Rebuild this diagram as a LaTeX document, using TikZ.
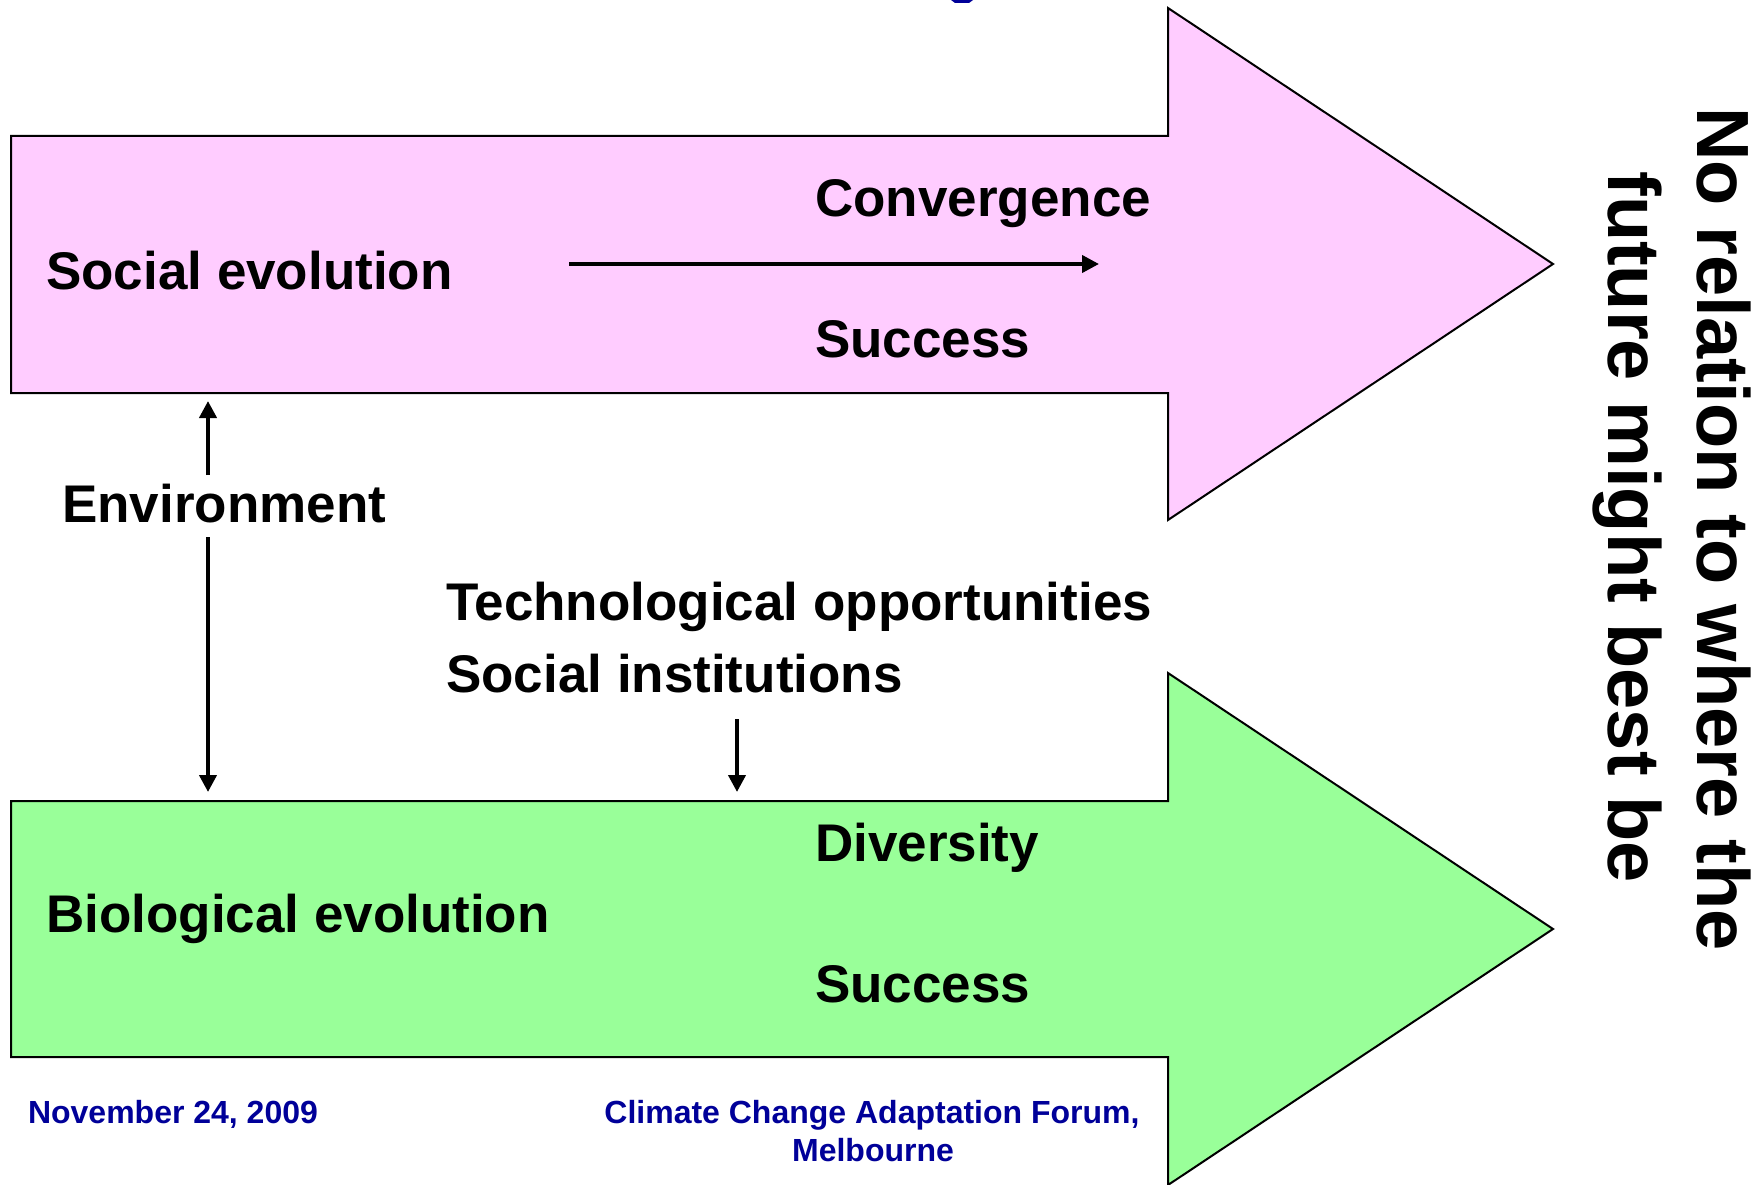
\documentclass[tikz,border=0pt]{standalone}
\usepackage{fontspec}
\setmainfont{Liberation Sans}
\usetikzlibrary{arrows.meta}
\definecolor{pinkfill}{RGB}{255,204,255}
\definecolor{greenfill}{RGB}{153,255,153}
\definecolor{footblue}{RGB}{0,0,153}
\begin{document}
\begin{tikzpicture}[x=1pt,y=-1pt,
  bigarrow/.style={draw=black, line width=2pt, line join=miter},
  lbl/.style={anchor=base west, inner sep=0pt, font=\fontsize{53}{64}\selectfont\bfseries},
  conn/.style={line width=4pt, -{Triangle[length=17pt,width=17pt]}},
  foot/.style={inner sep=0pt, anchor=base, text=footblue, font=\fontsize{32}{38}\selectfont\bfseries},
  side/.style={inner sep=0pt, anchor=base, rotate=-90, font=\fontsize{74}{89}\selectfont\bfseries}]
\useasboundingbox (0,0) rectangle (1761,1185);
\fill[white] (0,0) rectangle (1761,1185);

% cut-off title fragment
\fill[footblue] (951,0) -- (973,0) -- (969,3) -- (955,3) -- cycle;

% big arrows
\path[bigarrow, fill=pinkfill] (11,136) -- (1168,136) -- (1168,8) -- (1553,264) -- (1168,520) -- (1168,393) -- (11,393) -- cycle;
\path[bigarrow, fill=greenfill] (11,801) -- (1168,801) -- (1168,673) -- (1553,929) -- (1168,1185) -- (1168,1057) -- (11,1057) -- cycle;

% labels
\node[lbl] (soc) at (46,289) {Social evolution};
\node[lbl] (conv) at (815,217) {Convergence};
\node[lbl] (succ1) at (815,357) {Success};
\node[lbl] (env) at (62,522) {Environment};
\node[lbl] (tech) at (446,620) {Technological opportunities};
\node[lbl] (inst) at (446,692) {Social institutions};
\node[lbl] (div) at (815,861) {Diversity};
\node[lbl] (bio) at (46,932) {Biological evolution};
\node[lbl] (succ2) at (815,1002) {Success};

% connectors
\coordinate (h1) at (569,264);
\coordinate (h2) at (1099,264);
\draw[conn] (h1) -- (h2);
\coordinate (envtop) at (208,475);
\coordinate (socbot) at (208,401);
\draw[conn] (envtop) -- (socbot);
\coordinate (envbot) at (208,537);
\coordinate (biotop) at (208,792);
\draw[conn] (envbot) -- (biotop);
\coordinate (instbot) at (737,719);
\coordinate (biotop2) at (737,792);
\draw[conn] (instbot) -- (biotop2);

% side text
\node[side] (side1) at (1697,529) {No relation to where the};
\node[side] (side2) at (1608,527) {future might best be};

% footer
\node[foot] (date) at (173,1123) {November 24, 2009};
\node[foot] (forum) at (872,1123) {Climate Change Adaptation Forum,};
\node[foot] (melb) at (873,1161) {Melbourne};
\end{tikzpicture}
\end{document}
